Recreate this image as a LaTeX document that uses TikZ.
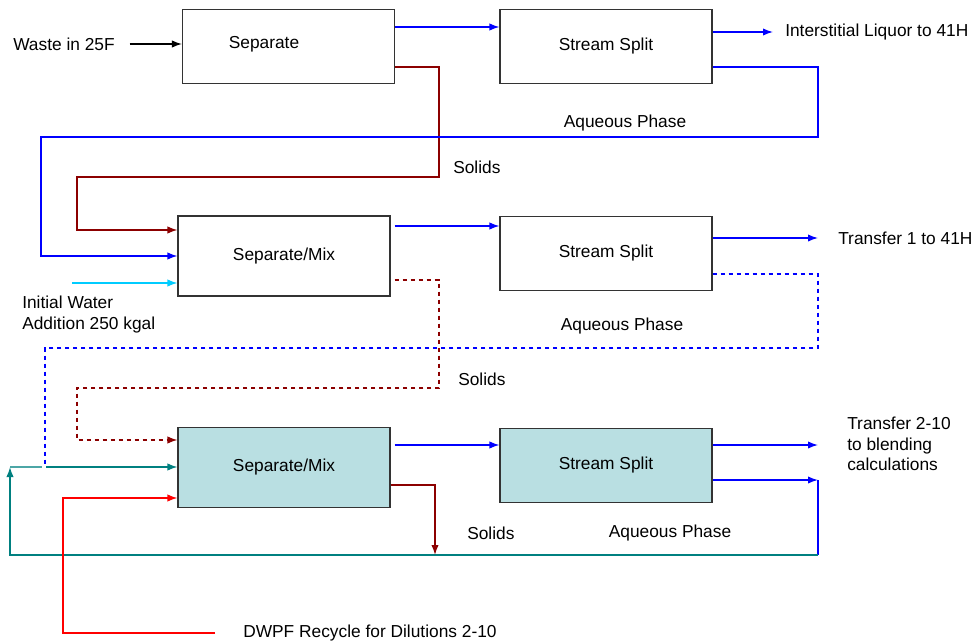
\documentclass[tikz,border=0pt]{standalone}
\usepackage{fontspec}
\setmainfont{Liberation Sans}
\usetikzlibrary{arrows.meta,positioning}

\definecolor{flowblue}{RGB}{0,0,255}
\definecolor{solidred}{RGB}{140,0,0}
\definecolor{waterblue}{RGB}{0,204,255}
\definecolor{recyclered}{RGB}{255,0,0}
\definecolor{loopteal}{RGB}{0,128,128}
\definecolor{boxfill}{RGB}{185,223,226}

\begin{document}
\begin{tikzpicture}[x=0.75pt,y=-0.75pt,
    font=\fontsize{13}{15.5}\selectfont,
    unit/.style={rectangle,draw=black!80,line width=0.8pt,minimum width=159pt,minimum height=56pt,inner sep=0pt},
    tall/.style={minimum height=60pt},
    shaded/.style={fill=boxfill},
    flow/.style={line width=1pt,-{Latex[length=7.5pt,width=5.5pt]}},
    pipe/.style={line width=1pt},
    broken/.style={dash pattern=on 3.5pt off 2.5pt},
    lbl/.style={inner sep=0pt}
    ]

    \useasboundingbox (0,0) rectangle (977,642);

    % unit operations
    \node (sep1) [unit] at (288.5,46.5) {};
    \node (sep1txt) [lbl] at (264,44) {Separate};
    \node (split1) [unit] at (606,46.5) {Stream Split};
    \node (sep2) [unit,tall] at (284,256) {Separate/Mix};
    \node (split2) [unit] at (606,253.5) {Stream Split};
    \node (sep3) [unit,tall,shaded] at (284,467.5) {Separate/Mix};
    \node (split3) [unit,shaded] at (606,465.5) {Stream Split};

    % stream labels
    \node (waste) [lbl,anchor=west] at (13,44) {Waste in 25F};
    \node (liquor) [lbl,anchor=west] at (785,32) {Interstitial Liquor to 41H};
    \node (aq1) [lbl] at (625,123) {Aqueous Phase};
    \node (solids1) [lbl,anchor=west] at (453,167) {Solids};
    \node (water) [lbl,anchor=west,align=left] at (22,314.5) {Initial Water\\Addition 250 kgal};
    \node (trans1) [lbl,anchor=west] at (838,238) {Transfer 1 to 41H};
    \node (aq2) [lbl] at (622,326) {Aqueous Phase};
    \node (solids2) [lbl,anchor=west] at (458,379) {Solids};
    \node (trans2) [lbl,anchor=west,align=left] at (847,444) {Transfer 2-10\\to blending\\calculations};
    \node (solids3) [lbl,anchor=west] at (467,533) {Solids};
    \node (aq3) [lbl] at (670,533) {Aqueous Phase};
    \node (dwpf) [lbl,anchor=west] at (243,633) {DWPF Recycle for Dilutions 2-10};

    \coordinate (waterin) at (72,283);
    \coordinate (out3) at (818,445);
    \coordinate (ret3) at (818,480);

    % first pass
    \draw[flow] ([xshift=11pt]waste.east) -- (sep1.west |- waste.east);
    \draw[flow,flowblue] (sep1.east |- 0,27) -- (split1.west |- 0,27);
    \draw[flow,flowblue] (split1.east |- liquor.west) -- ([xshift=-9pt]liquor.west);
    \draw[flow,solidred] (sep1.east |- 0,67) -| (439,177) -| (77,230) -- (sep2.west |- 0,230);
    \draw[flow,flowblue] (split1.east |- 0,67) -| (818,137) -| (41,256) -- (sep2.west);

    % second pass
    \draw[flow,waterblue] (waterin) -- (sep2.west |- waterin);
    \draw[flow,flowblue] ([xshift=3pt]sep2.east |- 0,226) -- (split2.west |- 0,226);
    \draw[flow,flowblue] (split2.east |- trans1.west) -- ([xshift=-15pt]trans1.west);
    \draw[flow,solidred,broken] ([xshift=3pt]sep2.east |- 0,280) -| (439,388) -| (77,440) -- (sep3.west |- 0,440);
    \draw[pipe,flowblue,broken] (split2.east |- 0,274) -| (818,348) -| (45,467);

    % third pass
    \draw[flow,flowblue] ([xshift=3pt]sep3.east |- 0,445) -- (split3.west |- 0,445);
    \draw[flow,flowblue] (split3.east |- out3) -- (out3);
    \draw[flow,flowblue] (split3.east |- ret3) -- (ret3);
    \draw[pipe,flowblue] (ret3) -- (818,555);
    \draw[flow,loopteal] (818,555) -| (10,467);
    \draw[pipe,loopteal!70] (10,467) -- (42,467);
    \draw[flow,loopteal] (46,467) -- (sep3.west |- 0,467);
    \draw[flow,solidred] (sep3.east |- 0,485) -| (435,555);
    \draw[flow,recyclered] ([xshift=-21pt]dwpf.west) -| (63,498) -- (sep3.west |- 0,498);

\end{tikzpicture}
\end{document}
